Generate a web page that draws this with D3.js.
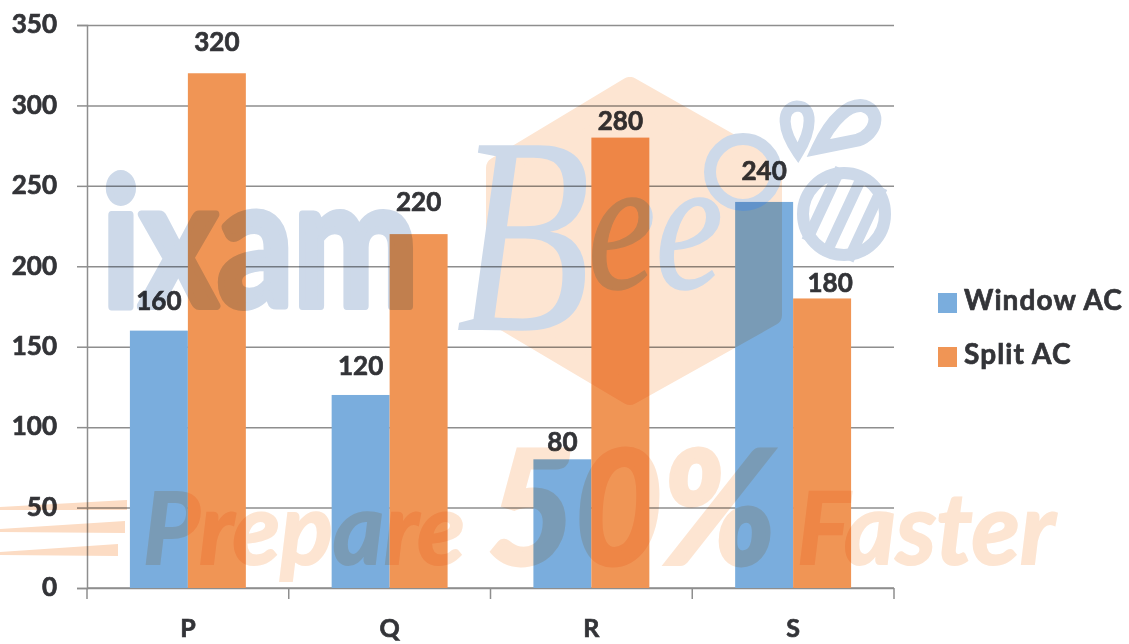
<!DOCTYPE html>
<html>
<head>
<meta charset="utf-8">
<script src="https://cdn.jsdelivr.net/npm/d3@7"></script>
<style>
    html, body { margin: 0; padding: 0; background: #fff; }
    svg { filter: blur(0.45px); }
    text { font-family: Lato, "Open Sans", sans-serif; font-weight: 700; fill: #333438; stroke: #333438; stroke-width: 0.7px; }
</style>
</head>
<body>
<div id="chart"></div>
<script>
// Values
const categories = ["P", "Q", "R", "S"];
const seriesNames = ["Window AC", "Split AC"];
const windowAC = [160, 120, 80, 240];
const splitAC = [320, 220, 280, 180];
const yTicks = [0, 50, 100, 150, 200, 250, 300, 350];

const colors = { "Window AC": "#7aaddd", "Split AC": "#f09555" };
const axisColor = "#8e8e8e";
const wmBlue = "#cdd9e9";
const wmOrange = "#fde5d2";

const svgWidth = 1129, svgHeight = 644;
let margin = { top: 25, left: 87, right: 235, bottom: 56 };
let width = svgWidth - margin.left - margin.right,
    height = svgHeight - margin.top - margin.bottom;

let svg = d3.select("#chart").append("svg")
    .attr("width", svgWidth)
    .attr("height", svgHeight)
    .style("display", "block");

let plot = svg.append("g")
    .attr("transform", "translate(" + margin.left + "," + margin.top + ")");

let xScale = d3.scaleBand().domain(categories).range([0, width]);
let xSeries = d3.scaleBand().domain(seriesNames).range([0, xScale.bandwidth()]).paddingOuter(0.74);
let yScale = d3.scaleLinear().domain([0, 350]).range([height, 0]);

// Y axis with the gridlines as long ticks
let yAxis = plot.append("g")
    .call(d3.axisLeft(yScale).tickValues(yTicks).tickSize(10).tickPadding(20));
yAxis.selectAll(".tick text").attr("font-size", 26).style("font-size", "26px");
yAxis.selectAll(".tick").append("line")
    .attr("x2", width)
    .attr("stroke", axisColor)
    .attr("stroke-width", 1.5);
yAxis.selectAll(".tick line").attr("stroke", axisColor).attr("stroke-width", 1.5);
yAxis.select(".domain").attr("stroke", axisColor).attr("stroke-width", 1.5);
yAxis.selectAll(".tick text").attr("dy", "0.3em");

// X axis, ticks sit between the categories
let xAxis = plot.append("g")
    .attr("transform", "translate(0," + height + ")");
xAxis.append("line")
    .attr("x2", width)
    .attr("stroke", axisColor)
    .attr("stroke-width", 1.5);
xAxis.selectAll(".edge")
    .data(categories.concat("end"))
    .join("line")
    .attr("class", "edge")
    .attr("x1", (d, i) => i * xScale.step())
    .attr("x2", (d, i) => i * xScale.step())
    .attr("y2", 11)
    .attr("stroke", axisColor)
    .attr("stroke-width", 1.5);
xAxis.selectAll(".cat")
    .data(categories)
    .join("text")
    .attr("class", "cat")
    .attr("x", d => xScale(d) + xScale.bandwidth() / 2)
    .attr("y", 49)
    .attr("text-anchor", "middle")
    .attr("font-size", 25)
    .text(d => d);

// Bars
let rows = categories.map((c, i) => ({ cat: c, "Window AC": windowAC[i], "Split AC": splitAC[i] }));
let groups = plot.selectAll(".group")
    .data(rows)
    .join("g")
    .attr("class", "group")
    .attr("transform", d => "translate(" + xScale(d.cat) + ",0)");

groups.selectAll("rect")
    .data(d => seriesNames.map(s => ({ s: s, v: d[s] })))
    .join("rect")
    .attr("x", d => xSeries(d.s))
    .attr("width", xSeries.bandwidth())
    .attr("y", d => yScale(d.v))
    .attr("height", d => height - yScale(d.v))
    .attr("fill", d => colors[d.s]);

// Value labels, the distance above the bar is not the same everywhere in the picture
let labelGaps = { 160: 21, 120: 20, 80: 8, 240: 22, 320: 22, 220: 23, 280: 8, 180: 6 };
let labelShift = { 180: 8 };
groups.selectAll(".val")
    .data(d => seriesNames.map(s => ({ s: s, v: d[s] })))
    .join("text")
    .attr("class", "val")
    .attr("x", d => xSeries(d.s) + xSeries.bandwidth() / 2 + (labelShift[d.v] || 0))
    .attr("y", d => yScale(d.v) - labelGaps[d.v])
    .attr("text-anchor", "middle")
    .attr("font-size", 26)
    .text(d => d.v);

// Legend
let legend = svg.append("g").attr("transform", "translate(938,0)");
let legendRows = [{ s: "Window AC", y: 293 }, { s: "Split AC", y: 347 }];
legendRows.forEach(r => {
    legend.append("rect")
        .attr("y", r.y)
        .attr("width", 19)
        .attr("height", 20)
        .attr("fill", colors[r.s]);
    legend.append("text")
        .attr("x", 26)
        .attr("y", r.y + 17)
        .attr("font-size", 28)
        .style("letter-spacing", "1.1px")
        .text(r.s);
});

// Watermark, multiplied over the chart
let wm = svg.append("g").style("mix-blend-mode", "multiply");

wm.append("path")
    .attr("d", "M630,88 L771,168 L771,315 L630,394 L497,315 L497,168 Z")
    .attr("fill", wmOrange)
    .attr("stroke", wmOrange)
    .attr("stroke-width", 22)
    .attr("stroke-linejoin", "round");

wm.append("text")
    .attr("x", 102).attr("y", 306)
    .attr("font-size", 178)
    .attr("textLength", 316)
    .attr("lengthAdjust", "spacingAndGlyphs")
    .style("fill", wmBlue)
    .style("stroke", wmBlue)
    .style("stroke-width", "8px")
    .style("stroke-linejoin", "round")
    .text("ixam");

wm.append("text")
    .attr("x", 456).attr("y", 330)
    .attr("font-size", 282)
    .attr("textLength", 135)
    .attr("lengthAdjust", "spacingAndGlyphs")
    .style("font-family", "'Liberation Serif', serif")
    .style("font-style", "italic")
    .style("font-weight", 400)
    .style("fill", wmBlue)
    .style("stroke", "none")
    .text("B");

wm.append("text")
    .attr("x", 588).attr("y", 288)
    .attr("font-size", 190)
    .attr("textLength", 135)
    .attr("lengthAdjust", "spacingAndGlyphs")
    .style("font-family", "'Liberation Serif', serif")
    .style("font-style", "italic")
    .style("font-weight", 400)
    .style("fill", wmBlue)
    .style("stroke", wmBlue)
    .style("stroke-width", "1.5px")
    .text("ee");

// Bee icon
wm.append("circle").attr("cx", 743).attr("cy", 172).attr("r", 33)
    .attr("fill", "none").attr("stroke", wmBlue).attr("stroke-width", 12);
wm.append("circle").attr("cx", 844).attr("cy", 214).attr("r", 41)
    .attr("fill", "none").attr("stroke", wmBlue).attr("stroke-width", 12);
wm.selectAll(".stripe")
    .data([-28, -5, 18])
    .join("rect")
    .attr("class", "stripe")
    .attr("x", d => 844 + d)
    .attr("y", 174)
    .attr("width", 11)
    .attr("height", 80)
    .attr("transform", "rotate(25 844 214)")
    .attr("fill", wmBlue);
wm.append("path")
    .attr("d", "M798,153 C782,130 780,108 797,106 C814,106 812,130 798,153 Z")
    .attr("fill", "none").attr("stroke", wmBlue).attr("stroke-width", 11);
wm.append("path")
    .attr("d", "M818,148 C832,118 850,103 864,106 C882,112 876,134 858,140 Z")
    .attr("fill", "none").attr("stroke", wmBlue).attr("stroke-width", 13);

// Speed lines and slogan
wm.selectAll(".speed")
    .data([[505, 127, 5], [527, 125, 6], [550, 118, 6]])
    .join("path")
    .attr("class", "speed")
    .attr("d", d => "M0," + (d[0] + 2) + " L" + d[1] + "," + (d[0] - d[2]) + " L" + d[1] + "," + (d[0] + d[2]) + " L0," + (d[0] + 5) + " Z")
    .attr("fill", "#fcdcc4");

let slogan = [
    { t: "Prepare", x: 143, len: 322, size: 100, sw: 2 },
    { t: "50%", x: 488, len: 288, size: 158, sw: 5 },
    { t: "Faster", x: 797, len: 258, size: 100, sw: 2 }
];
slogan.forEach(s => {
    wm.append("text")
        .attr("x", s.x).attr("y", 564)
        .attr("font-size", s.size)
        .attr("textLength", s.len)
        .attr("lengthAdjust", "spacingAndGlyphs")
        .style("font-style", "italic")
        .style("fill", wmOrange)
        .style("stroke", wmOrange)
        .style("stroke-width", s.sw + "px")
        .text(s.t);
});
</script>
</body>
</html>
